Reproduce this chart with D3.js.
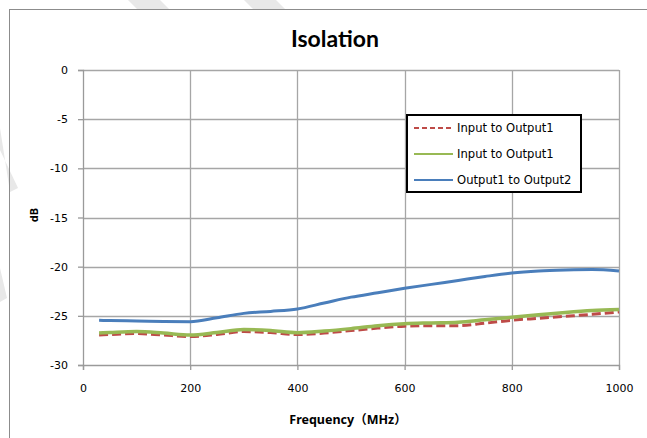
<!DOCTYPE html>
<html>
<head>
<meta charset="utf-8">
<script src="https://cdn.jsdelivr.net/npm/d3@7"></script>
<style>
  body { margin: 0; background: #fff; }
  svg { display: block; }
  .tick text { font-family: "DejaVu Sans", Verdana, sans-serif; font-size: 11px; fill: #000; }
</style>
</head>
<body>
<figure id="chart" style="margin:0"></figure>
<script>
// frequencies (MHz) sampled along the curves
const freqs = [30, 50, 100, 150, 200, 250, 300, 350, 400, 450, 500, 550, 600, 650, 700, 750, 800, 850, 900, 950, 1000];
// Input to Output1 (red, dashed)
const inOut1a = [-26.95, -26.9, -26.8, -26.95, -27.1, -26.9, -26.6, -26.7, -26.9, -26.75, -26.5, -26.25, -26.05, -26.0, -26.0, -25.75, -25.45, -25.25, -25.05, -24.85, -24.6];
// Input to Output1 (green)
const inOut1b = [-26.75, -26.7, -26.6, -26.75, -26.95, -26.7, -26.4, -26.5, -26.72, -26.55, -26.3, -26.0, -25.8, -25.72, -25.65, -25.4, -25.15, -24.9, -24.65, -24.45, -24.35];
// Output1 to Output2 (blue)
const out1Out2 = [-25.45, -25.48, -25.52, -25.58, -25.6, -25.2, -24.75, -24.55, -24.3, -23.7, -23.1, -22.65, -22.2, -21.8, -21.4, -21.0, -20.65, -20.45, -20.35, -20.3, -20.45];

const seriesNames = ["Input to Output1", "Input to Output1", "Output1 to Output2"];
const xTicks = [0, 200, 400, 600, 800, 1000];
const yTicks = [0, -5, -10, -15, -20, -25, -30];

const W = 647, H = 438;
const plotL = 83, plotR = 619, plotT = 70, plotB = 365;

const svg = d3.select("#chart").append("svg")
  .attr("width", W).attr("height", H);

// faint watermark stripes from the scanned page
const wm = [
  [[128, 0], [160, 0], [170, 10], [138, 10]],
  [[244, 0], [276, 0], [286, 10], [254, 10]],
  [[0, 128], [0, 150], [18, 188], [10, 192]],
  [[0, 248], [0, 268], [7, 298], [0, 302]]
];
svg.selectAll("polygon.wm").data(wm).enter().append("polygon")
  .attr("class", "wm")
  .attr("points", d => d.map(p => p.join(",")).join(" "))
  .attr("fill", "#e8e8e8");

// chart frame
svg.append("rect")
  .attr("x", 9.5).attr("y", 9.5)
  .attr("width", W + 10).attr("height", H + 10)
  .attr("fill", "none").attr("stroke", "#8c8c8c").attr("stroke-width", 1);

const x = d3.scaleLinear().domain([0, 1000]).range([plotL, plotR]);
const y = d3.scaleLinear().domain([-30, 0]).range([plotB, plotT]);

// gridlines
svg.append("g").selectAll("line").data(yTicks.slice(0, -1)).enter().append("line")
  .attr("x1", plotL).attr("x2", plotR)
  .attr("y1", d => Math.round(y(d)) + 0.5).attr("y2", d => Math.round(y(d)) + 0.5)
  .attr("stroke", "#a6a6a6").attr("stroke-width", 1.3);
svg.append("g").selectAll("line").data(xTicks.slice(1)).enter().append("line")
  .attr("y1", plotT).attr("y2", plotB)
  .attr("x1", d => Math.round(x(d)) + 0.5).attr("x2", d => Math.round(x(d)) + 0.5)
  .attr("stroke", "#a6a6a6").attr("stroke-width", 1.3);

// axes (plain hyphen minus, no thousands separator)
const fmt = d => String(d);
const xAxis = svg.append("g")
  .attr("transform", "translate(0," + plotB + ")")
  .call(d3.axisBottom(x).tickValues(xTicks).tickFormat(fmt).tickSize(5).tickPadding(14));
const yAxis = svg.append("g")
  .attr("transform", "translate(" + plotL + ",0)")
  .call(d3.axisLeft(y).tickValues(yTicks).tickFormat(fmt).tickSize(5).tickPadding(10));
[xAxis, yAxis].forEach(g => {
  g.selectAll("path, line").attr("stroke", "#9a9a9a").attr("stroke-width", 1.3);
});

// series lines
const line = d3.line()
  .x(d => x(d[0]))
  .y(d => y(d[1]))
  .curve(d3.curveMonotoneX);

const series = [
  { vals: inOut1a, color: "#be4b48", width: 3, dash: "9,4" },
  { vals: inOut1b, color: "#98b954", width: 3.5, dash: null },
  { vals: out1Out2, color: "#4a7ebb", width: 3, dash: null }
];

series.forEach(s => {
  svg.append("path")
    .datum(freqs.map((f, i) => [f, s.vals[i]]))
    .attr("d", line)
    .attr("fill", "none")
    .attr("stroke", s.color)
    .attr("stroke-width", s.width)
    .attr("stroke-dasharray", s.dash)
    .attr("stroke-linejoin", "round");
});

// title
svg.append("text")
  .attr("x", 335).attr("y", 47)
  .attr("text-anchor", "middle")
  .style("font-family", "Lato, 'Open Sans', sans-serif")
  .style("font-weight", "bold")
  .style("font-size", "23px")
  .text("Isolation");

// axis titles
svg.append("text")
  .attr("transform", "translate(38,215) rotate(-90)")
  .attr("text-anchor", "middle")
  .style("font-family", "'Noto Sans', sans-serif")
  .style("font-weight", "bold")
  .style("font-size", "11px")
  .text("dB");

svg.append("text")
  .attr("x", 348).attr("y", 424)
  .attr("text-anchor", "middle")
  .style("font-family", "'Noto Sans', 'Noto Sans CJK SC', sans-serif")
  .style("font-weight", "bold")
  .style("font-size", "12.5px")
  .text("Frequency（MHz）");

// legend
const lg = svg.append("g");
lg.append("rect")
  .attr("x", 407).attr("y", 115)
  .attr("width", 174).attr("height", 77)
  .attr("fill", "#fff").attr("stroke", "#000").attr("stroke-width", 2);
const rowY = [128, 154, 180];
series.forEach((s, i) => {
  lg.append("line")
    .attr("x1", 414).attr("x2", 453)
    .attr("y1", rowY[i]).attr("y2", rowY[i])
    .attr("stroke", s.color)
    .attr("stroke-width", 2.2)
    .attr("stroke-dasharray", s.dash ? "5,3" : null);
  lg.append("text")
    .attr("x", 457).attr("y", rowY[i] + 4)
    .style("font-family", "'DejaVu Sans', Verdana, sans-serif")
    .style("font-size", "11.6px")
    .text(seriesNames[i]);
});
</script>
</body>
</html>
